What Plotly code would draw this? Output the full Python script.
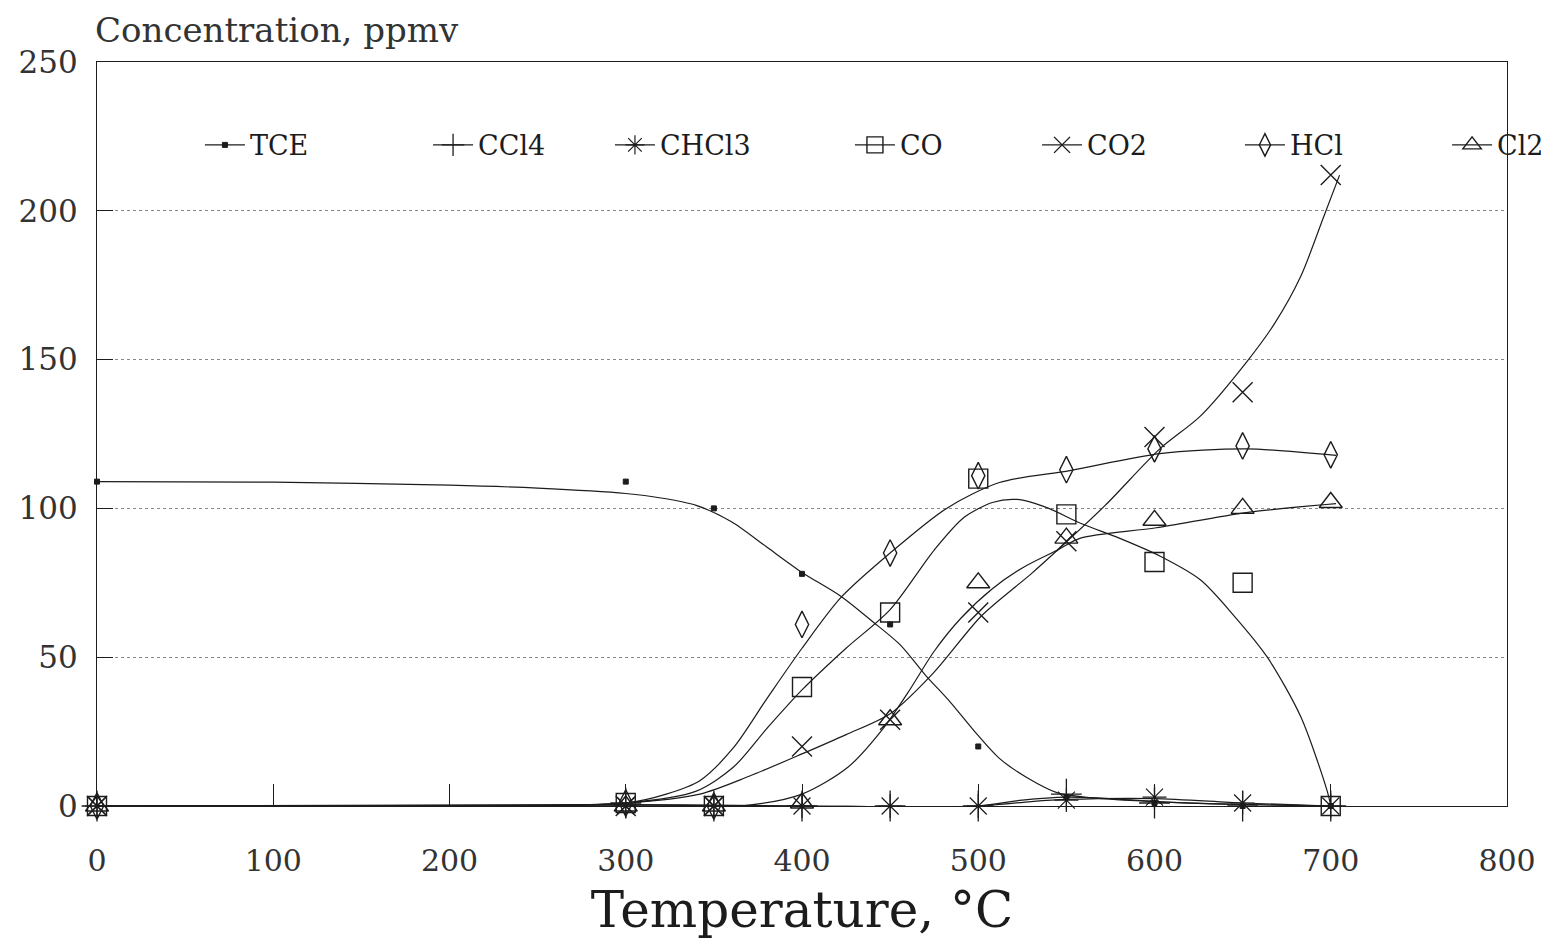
import plotly.graph_objects as go

# ---------------------- measured points ----------------------
temps = [0, 300, 350, 400, 450, 500, 550, 600, 650, 700]

tce = [109, 109, 100, 78, 61, 20, 3, 1, 0, 0]
ccl4 = [0, 1, 0, 0, 0, 0, 4, 1, 0, 0]
chcl3 = [0, 0, 0, 0, 0, 0, 2, 3, 1, 0]
co = [0, 1, 0, 40, 65, 110, 98, 82, 75, 0]
co2 = [0, 0, 0, 20, 29, 65, 89, 124, 139, 212]
hcl = [0, 1, 0, 61, 85, 111, 113, 120, 121, 118]
cl2 = [0, 0, 0, 1, 29, 75, 90, 96, 100, 102]

# ---------------------- fitted curves ----------------------
tce_fit_t = [0, 100, 200, 250, 300, 320, 340, 360, 380, 400, 422, 440, 456, 470, 484, 498, 512, 528, 545, 560, 600, 650, 700]
tce_fit_c = [109, 108.8, 107.8, 106.8, 105, 103.5, 101, 95.5, 87, 78.5, 70.5, 62, 54, 44, 35, 25, 16, 9.4, 4.4, 3, 1.5, 0.5, 0]

ccl4_fit_t = [0, 300, 400, 500, 525, 550, 575, 600, 650, 700]
ccl4_fit_c = [0, 0.5, 0, 0, 2, 3, 2.5, 1.5, 0.5, 0]

chcl3_fit_t = [0, 300, 400, 500, 530, 550, 600, 650, 700]
chcl3_fit_c = [0, 0.3, 0, 0, 1.5, 2.2, 2.5, 1, 0]

co_fit_t = [0, 200, 300, 340, 361, 380, 400, 425, 450, 475, 492, 508, 522, 540, 558, 580, 603, 626, 645, 664, 683, 698, 700]
co_fit_c = [0, 0, 1, 5, 13, 26, 39, 53, 66, 86, 97, 102, 103, 100, 95, 90, 84, 76, 64, 50, 30, 5, 0]

co2_fit_t = [0, 200, 300, 342, 370, 400, 425, 450, 475, 502, 530, 545, 572, 603, 626, 652, 668, 683, 696, 705]
co2_fit_c = [0, 0, 1, 4, 10, 17.5, 24, 31, 45, 64, 78, 86, 101, 120, 131, 149, 162, 178, 198, 212]

hcl_fit_t = [0, 200, 300, 323, 342, 361, 380, 400, 422, 450, 482, 512, 552, 603, 652, 703]
hcl_fit_c = [0, 0, 1, 4, 8.5, 19.5, 36, 53, 70, 85, 100, 108.7, 112.7, 118.4, 120, 117.8]

cl2_fit_t = [0, 300, 365, 400, 426, 446, 460, 475, 490, 508, 525, 545, 558, 601, 652, 703]
cl2_fit_c = [0, 0, 0, 4, 13, 26, 38, 52, 63, 73, 80, 86, 90, 93.5, 98.6, 101.6]

names = ['TCE', 'CCl4', 'CHCl3', 'CO', 'CO2', 'HCl', 'Cl2']

# ---------------------- styling ----------------------
INK = '#1c1c1c'
FONT = 'DejaVu Serif'

styles = {
    'TCE':   dict(symbol='square', size=5, line=dict(width=1, color=INK), color=INK),
    'CCl4':  dict(symbol='cross-thin', size=22, line=dict(width=1.3, color=INK), color=INK),
    'CHCl3': dict(symbol='asterisk', size=20, line=dict(width=1.2, color=INK), color=INK),
    'CO':    dict(symbol='square-open', size=19, line=dict(width=1.4, color=INK), color=INK),
    'CO2':   dict(symbol='x-thin', size=20, line=dict(width=1.4, color=INK), color=INK),
    'HCl':   dict(symbol='diamond-tall-open', size=19, line=dict(width=1.4, color=INK), color=INK),
    'Cl2':   dict(symbol='triangle-up-open', size=20, line=dict(width=1.4, color=INK), color=INK),
}

series = {
    'TCE': (tce, tce_fit_t, tce_fit_c),
    'CCl4': (ccl4, ccl4_fit_t, ccl4_fit_c),
    'CHCl3': (chcl3, chcl3_fit_t, chcl3_fit_c),
    'CO': (co, co_fit_t, co_fit_c),
    'CO2': (co2, co2_fit_t, co2_fit_c),
    'HCl': (hcl, hcl_fit_t, hcl_fit_c),
    'Cl2': (cl2, cl2_fit_t, cl2_fit_c),
}

# legend entry positions (paper fraction)
legend_x = [0.0730, 0.2348, 0.3638, 0.5340, 0.6667, 0.8106, 0.9575]

fig = go.Figure()

for i, name in enumerate(names):
    vals, ft, fc = series[name]
    lg = 'legend' if i == 0 else 'legend%d' % (i + 1)
    # fitted curve
    fig.add_trace(go.Scatter(x=ft, y=fc, mode='lines', line=dict(color=INK, width=1.2, shape='spline', smoothing=0.8),
                             showlegend=False, cliponaxis=False, hoverinfo='skip'))
    # measured points
    fig.add_trace(go.Scatter(x=temps, y=vals, mode='markers', marker=styles[name],
                             showlegend=False, cliponaxis=False, name=name))
    # legend entry
    fig.add_trace(go.Scatter(x=[None], y=[None], mode='lines+markers', name=name, legend=lg,
                             line=dict(color=INK, width=1.2), marker=styles[name]))

legend_cfg = {}
for i, lx in enumerate(legend_x):
    key = 'legend' if i == 0 else 'legend%d' % (i + 1)
    legend_cfg[key] = dict(x=lx, y=0.888, xanchor='left', yanchor='middle', orientation='h',
                           bgcolor='rgba(0,0,0,0)', font=dict(family=FONT, size=27, color=INK),
                           itemwidth=40)

# page body has an 8px margin, figure is offset by it;
# autoexpand off so the last legend entry (past the frame) doesn't squeeze the plot
fig.update_layout(
    width=1541, height=931,
    margin=dict(l=89, r=42, t=54, b=133, autoexpand=False),
    paper_bgcolor='white', plot_bgcolor='white',
    font=dict(family=FONT, color=INK),
    xaxis=dict(range=[0, 800], tickvals=[0, 100, 200, 300, 400, 500, 600, 700, 800], automargin=False,
               ticks='inside', ticklen=22, tickcolor=INK, showgrid=False, zeroline=False,
               showline=True, linecolor=INK, linewidth=1.3, mirror=True,
               tickfont=dict(family=FONT, size=30, color='#333'), ticklabelstandoff=28,
               title=dict(text='Temperature, °C', font=dict(family=FONT, size=50, color=INK), standoff=20)),
    yaxis=dict(range=[0, 250], tickvals=[0, 50, 100, 150, 200, 250], automargin=False,
               ticks='inside', ticklen=16, tickcolor=INK, showgrid=True, gridcolor='#888', griddash='dot',
               gridwidth=1, zeroline=False, showline=True, linecolor=INK, linewidth=1.3, mirror=True,
               tickfont=dict(family=FONT, size=31, color='#333'), ticklabelstandoff=12),
    annotations=[dict(text='Concentration, ppmv', xref='paper', yref='paper', x=0, y=1.043, xshift=-4,
                      xanchor='left', yanchor='middle', showarrow=False,
                      font=dict(family=FONT, size=34, color='#333'))],
    **legend_cfg,
)

fig.write_html('out.html')
